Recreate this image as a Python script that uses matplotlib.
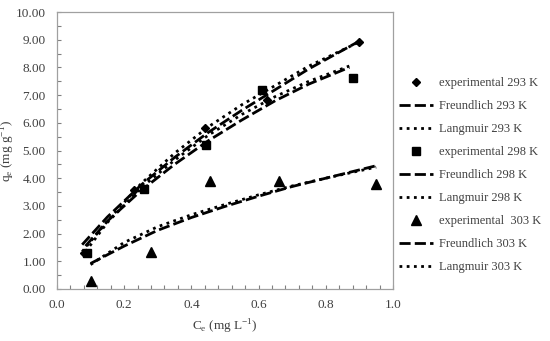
import matplotlib
matplotlib.use('Agg')
import matplotlib.pyplot as plt
from matplotlib.ticker import MultipleLocator, FormatStrFormatter

plt.rcParams['font.family'] = ['Liberation Serif', 'DejaVu Serif']
plt.rcParams['mathtext.fontset'] = 'custom'
plt.rcParams['mathtext.rm'] = 'Liberation Serif'

# experimental points
ce_293 = [0.08, 0.23, 0.44, 0.625, 0.90]
qe_293 = [1.30, 3.57, 5.80, 6.82, 8.93]
ce_298 = [0.09, 0.26, 0.445, 0.61, 0.88]
qe_298 = [1.30, 3.60, 5.20, 7.18, 7.60]
ce_303 = [0.10, 0.28, 0.455, 0.66, 0.95]
qe_303 = [0.30, 1.35, 3.90, 3.90, 3.80]

# fitted curves
x_fit_293 = [0.075, 0.15, 0.25, 0.35, 0.45, 0.55, 0.65, 0.75, 0.90]
freundlich_293 = [1.60, 2.60, 3.75, 4.75, 5.65, 6.45, 7.20, 7.95, 8.95]
langmuir_293 = [1.35, 2.45, 3.80, 4.90, 5.85, 6.65, 7.35, 8.05, 8.92]
x_fit_298 = [0.085, 0.15, 0.25, 0.35, 0.45, 0.55, 0.65, 0.75, 0.87]
freundlich_298 = [1.55, 2.45, 3.55, 4.50, 5.35, 6.10, 6.80, 7.40, 8.00]
langmuir_298 = [1.35, 2.40, 3.65, 4.65, 5.55, 6.30, 6.95, 7.50, 8.05]
x_fit_303 = [0.10, 0.20, 0.30, 0.40, 0.50, 0.60, 0.70, 0.80, 0.95]
freundlich_303 = [0.92, 1.55, 2.12, 2.58, 2.98, 3.35, 3.70, 4.00, 4.45]
langmuir_303 = [0.88, 1.68, 2.25, 2.68, 3.05, 3.40, 3.72, 4.00, 4.40]

text_col = '#404040'
dash = (0, (4, 1.5))
dot = (0, (1, 1.6))

fig = plt.figure(figsize=(5.5, 3.41), dpi=100)
ax = fig.add_axes([0.1036, 0.1525, 0.6109, 0.8123])

ax.plot(ce_293, qe_293, 'D', color='black', ms=4.5, label='experimental 293 K')
ax.plot(x_fit_293, freundlich_293, color='black', lw=2, linestyle=dash, label='Freundlich 293 K')
ax.plot(x_fit_293, langmuir_293, color='black', lw=2, linestyle=dot, label='Langmuir 293 K')
ax.plot(ce_298, qe_298, 's', color='black', ms=6, label='experimental 298 K')
ax.plot(x_fit_298, freundlich_298, color='black', lw=2, linestyle=dash, label='Freundlich 298 K')
ax.plot(x_fit_298, langmuir_298, color='black', lw=2, linestyle=dot, label='Langmuir 298 K')
ax.plot(ce_303, qe_303, '^', color='black', ms=6.5, label='experimental  303 K')
ax.plot(x_fit_303, freundlich_303, color='black', lw=2, linestyle=dash, label='Freundlich 303 K')
ax.plot(x_fit_303, langmuir_303, color='black', lw=2, linestyle=dot, label='Langmuir 303 K')

ax.set_xlim(0, 1.0)
ax.set_ylim(0, 10)
ax.xaxis.set_major_locator(MultipleLocator(0.2))
ax.xaxis.set_minor_locator(MultipleLocator(0.04))
ax.yaxis.set_major_locator(MultipleLocator(1))
ax.yaxis.set_minor_locator(MultipleLocator(0.5))
ax.xaxis.set_major_formatter(FormatStrFormatter('%.1f'))
ax.yaxis.set_major_formatter(FormatStrFormatter('%.2f'))
ax.tick_params(which='both', direction='in', length=3, width=0.8, color='#808080',
               labelsize=9.5, labelcolor=text_col)
ax.tick_params(axis='x', pad=7)
ax.tick_params(axis='y', pad=8)
for s in ax.spines.values():
    s.set_color('#a0a0a0')
    s.set_linewidth(0.9)

ax.set_xlabel(r'C$_\mathregular{e}$ (mg L$^\mathregular{-1}$)', fontsize=9.5, color=text_col, labelpad=5)
ax.set_ylabel(r'q$_\mathregular{e}$ (mg g$^\mathregular{-1}$)', fontsize=9.5, color=text_col)
ax.yaxis.set_label_coords(-0.118, 0.5)

fig.legend(loc='upper left', bbox_to_anchor=(0.725, 0.773), frameon=False, fontsize=9,
           handlelength=2.7, handletextpad=0.5, labelspacing=0.88, borderpad=0,
           borderaxespad=0, labelcolor=text_col)

fig.savefig('out.png', dpi=100)
